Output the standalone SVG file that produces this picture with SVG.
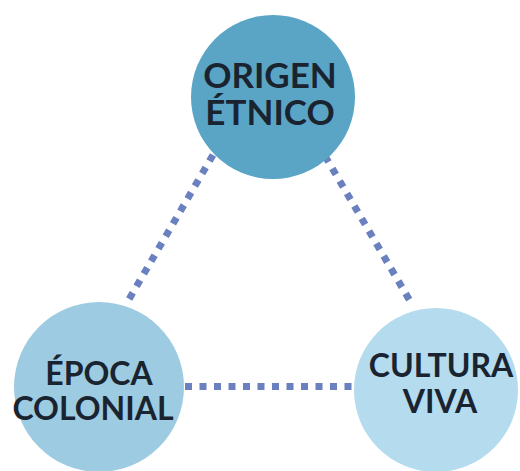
<svg xmlns="http://www.w3.org/2000/svg" width="520" height="471" viewBox="0 0 520 471">
<style>
.link{fill:none;stroke:#6b80bf;stroke-width:7;stroke-dasharray:7 7.5}
.lbl{font-family:Lato,"Open Sans","Liberation Sans",sans-serif;font-weight:700;fill:#1a2430;text-anchor:middle}
.big{font-size:35px}
.sm{font-size:32px}
</style>
<rect width="520" height="471" fill="#ffffff"/>
<g id="connectors">
<line class="link" x1="213" y1="155" x2="128" y2="301"/>
<line class="link" x1="325" y1="156" x2="410" y2="301"/>
<line class="link" x1="185" y1="386.5" x2="355" y2="386.5"/>
</g>
<g id="node-origen">
<circle cx="273" cy="97" r="82" fill="#5aa5c6"/>
<text class="lbl big" x="270" y="88">ORIGEN</text>
<text class="lbl big" x="270" y="125">ÉTNICO</text>
</g>
<g id="node-epoca">
<circle cx="99" cy="387" r="85" fill="#9dcbe1"/>
<text class="lbl sm" x="99" y="385">ÉPOCA</text>
<text class="lbl sm" x="93" y="420">COLONIAL</text>
</g>
<g id="node-cultura">
<circle cx="436" cy="390" r="82" fill="#b4dbee"/>
<text class="lbl sm" x="441" y="377">CULTURA</text>
<text class="lbl sm" x="440" y="413">VIVA</text>
</g>
</svg>
